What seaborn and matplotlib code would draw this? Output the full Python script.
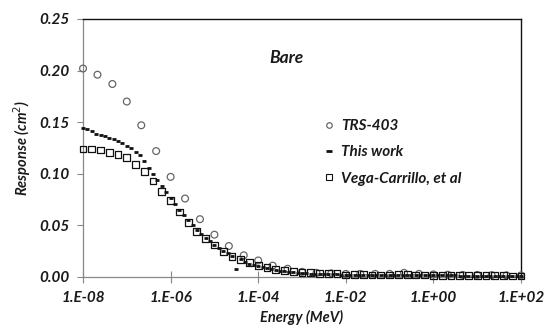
import numpy as np
import pandas as pd
import matplotlib
matplotlib.use("Agg")
import matplotlib.pyplot as plt
from matplotlib.lines import Line2D
import seaborn as sns

# TRS-403 (log10 of energy in MeV, response in cm2)
trs_logE = [-8.0, -7.67, -7.33, -7.0, -6.67, -6.33, -6.0, -5.67, -5.33, -5.0,
            -4.67, -4.33, -4.0, -3.67, -3.33, -3.0, -2.67, -2.33, -2.0, -1.67,
            -1.33, -1.0, -0.67, -0.33, 0.0, 0.33, 0.67, 1.0, 1.33, 1.67, 2.0]
trs_resp = [0.202, 0.196, 0.187, 0.170, 0.147, 0.122, 0.097, 0.076, 0.056, 0.041,
            0.030, 0.021, 0.016, 0.011, 0.008, 0.005, 0.004, 0.0035, 0.003, 0.003,
            0.003, 0.003, 0.004, 0.003, 0.0025, 0.0022, 0.002, 0.002, 0.0018, 0.0016, 0.0015]

# This work
work_logE = [-8.0, -7.9, -7.8, -7.7, -7.6, -7.5, -7.4, -7.3, -7.2, -7.1,
             -7.0, -6.9, -6.8, -6.7, -6.6, -6.5, -6.4, -6.3, -6.2, -6.1,
             -6.0, -5.9, -5.8, -5.7, -5.6, -5.5, -5.4, -5.3, -5.2, -5.1,
             -5.0, -4.9, -4.8, -4.7, -4.6, -4.5, -4.4, -4.3, -4.2, -4.1,
             -4.0, -3.9, -3.8, -3.7, -3.6, -3.5, -3.4, -3.3, -3.2, -3.1,
             -3.0, -2.9, -2.8, -2.7, -2.6, -2.5, -2.4, -2.3, -2.2, -2.1,
             -2.0, -1.9, -1.8, -1.7, -1.6, -1.5, -1.4, -1.3, -1.2, -1.1,
             -1.0, -0.9, -0.8, -0.7, -0.6, -0.5, -0.4, -0.3, -0.2, -0.1,
             0.0, 0.1, 0.2, 0.3, 0.4, 0.5, 0.6, 0.7, 0.8, 0.9,
             1.0, 1.1, 1.2, 1.3, 1.4, 1.5, 1.6, 1.7, 1.8, 1.9, 2.0]
work_resp = [0.144, 0.143, 0.141, 0.139, 0.138, 0.137, 0.135, 0.134, 0.132, 0.130,
             0.127, 0.125, 0.121, 0.118, 0.112, 0.106, 0.100, 0.094, 0.088, 0.082,
             0.077, 0.071, 0.065, 0.060, 0.055, 0.050, 0.046, 0.042, 0.038, 0.035,
             0.031, 0.028, 0.025, 0.023, 0.020, 0.008, 0.017, 0.015, 0.013, 0.012,
             0.011, 0.010, 0.009, 0.008, 0.007, 0.006, 0.006, 0.005, 0.005, 0.004,
             0.004, 0.0035, 0.0033, 0.003, 0.003, 0.0028, 0.0027, 0.0025, 0.0025, 0.0024,
             0.0023, 0.0022, 0.0022, 0.0021, 0.0021, 0.002, 0.002, 0.002, 0.002, 0.002,
             0.002, 0.002, 0.0021, 0.0022, 0.0022, 0.0021, 0.002, 0.002, 0.0019, 0.0018,
             0.0018, 0.0017, 0.0016, 0.0016, 0.0015, 0.0015, 0.0014, 0.0014, 0.0013, 0.0013,
             0.0012, 0.0012, 0.0012, 0.0011, 0.0011, 0.0011, 0.001, 0.001, 0.001, 0.001, 0.001]

# Vega-Carrillo, et al
vega_logE = [-8.0, -7.8, -7.6, -7.4, -7.2, -7.0, -6.8, -6.6, -6.4, -6.2,
             -6.0, -5.8, -5.6, -5.4, -5.2, -5.0, -4.8, -4.6, -4.4, -4.2,
             -4.0, -3.8, -3.6, -3.4, -3.2, -3.0, -2.8, -2.6, -2.4, -2.2,
             -2.0, -1.8, -1.6, -1.4, -1.2, -1.0, -0.8, -0.6, -0.4, -0.2,
             0.0, 0.2, 0.4, 0.6, 0.8, 1.0, 1.2, 1.4, 1.6, 1.8, 2.0]
vega_resp = [0.124, 0.124, 0.123, 0.121, 0.119, 0.116, 0.109, 0.102, 0.093, 0.083,
             0.074, 0.063, 0.053, 0.044, 0.037, 0.031, 0.025, 0.020, 0.017, 0.014,
             0.011, 0.009, 0.007, 0.006, 0.005, 0.004, 0.004, 0.003, 0.003, 0.003,
             0.002, 0.0022, 0.0021, 0.002, 0.002, 0.002, 0.0021, 0.0022, 0.002, 0.0019,
             0.0018, 0.0017, 0.0016, 0.0015, 0.0014, 0.0013, 0.0012, 0.0011, 0.0011, 0.001, 0.001]

x_ticks = [1e-8, 1e-6, 1e-4, 1e-2, 1e0, 1e2]
x_labels = ["1.E-08", "1.E-06", "1.E-04", "1.E-02", "1.E+00", "1.E+02"]
y_ticks = [0.00, 0.05, 0.10, 0.15, 0.20, 0.25]

trs = pd.DataFrame({"E": np.power(10.0, trs_logE), "R": trs_resp})
work = pd.DataFrame({"E": np.power(10.0, work_logE), "R": work_resp})
vega = pd.DataFrame({"E": np.power(10.0, vega_logE), "R": vega_resp})

sns.set_theme(style="white")
plt.rcParams["font.family"] = ["Lato", "DejaVu Sans"]
font = dict(fontweight="bold", fontstyle="italic", color="#1a1a1a")

fig = plt.figure(figsize=(5.48, 3.34), dpi=100)
ax = fig.add_axes([0.1515, 0.1707, 0.7992, 0.7725])

sns.scatterplot(data=trs, x="E", y="R", ax=ax, marker="o", s=24,
                facecolor="none", edgecolor="#666666", linewidth=0.9, clip_on=False, zorder=3)
sns.scatterplot(data=vega, x="E", y="R", ax=ax, marker="s", s=24,
                facecolor="none", edgecolor="#111111", linewidth=0.9, clip_on=False, zorder=3)
ax.plot(work["E"], work["R"], linestyle="none", marker="_", markersize=2.6,
        markeredgewidth=2.0, color="#111111", zorder=4, clip_on=False)

ax.set_xscale("log")
ax.set_xlim(1e-8, 1e2)
ax.set_ylim(0, 0.25)
ax.set_xticks(x_ticks)
ax.set_xticklabels(x_labels)
ax.minorticks_off()
ax.set_yticks(y_ticks)
ax.set_yticklabels([f"{v:.2f}" for v in y_ticks])
for lab in ax.get_xticklabels() + ax.get_yticklabels():
    lab.set_fontsize(11)
    lab.set_fontweight("bold")
    lab.set_fontstyle("italic")
    lab.set_color("#1a1a1a")

ax.tick_params(axis="y", direction="out", length=4, width=0.8, color="#888888", pad=6, left=True)
ax.tick_params(axis="x", direction="inout", length=8, width=0.8, color="#888888", pad=6, bottom=True)
for s in ["left", "bottom"]:
    ax.spines[s].set_color("#888888")
    ax.spines[s].set_linewidth(0.9)
for s in ["top", "right"]:
    ax.spines[s].set_color("#111111")
    ax.spines[s].set_linewidth(1.0)

ax.set_xlabel("Energy (MeV)", fontsize=10.5, labelpad=4, **font)
ax.set_ylabel("Response (cm$^2$)", fontsize=10.5, labelpad=4, **font)
ax.text(0.465, 0.85, "Bare", transform=ax.transAxes, fontsize=12.5, ha="center", va="center", **font)

handles = [
    Line2D([], [], linestyle="none", marker="o", markersize=4, markerfacecolor="none",
           markeredgecolor="#555555", markeredgewidth=0.8),
    Line2D([], [], linestyle="none", marker="_", markersize=4, markeredgewidth=2, color="#111111"),
    Line2D([], [], linestyle="none", marker="s", markersize=4, markerfacecolor="none",
           markeredgecolor="#111111", markeredgewidth=0.8),
]
leg = ax.legend(handles, ["TRS-403", "This work", "Vega-Carrillo, et al"],
                loc="upper left", bbox_to_anchor=(0.52, 0.665), frameon=False,
                handlelength=0.6, handletextpad=0.5, labelspacing=0.8,
                prop=dict(family=["Lato", "DejaVu Sans"], weight="bold", style="italic", size=11))
for t in leg.get_texts():
    t.set_color("#1a1a1a")

fig.savefig("out.png", dpi=100)
